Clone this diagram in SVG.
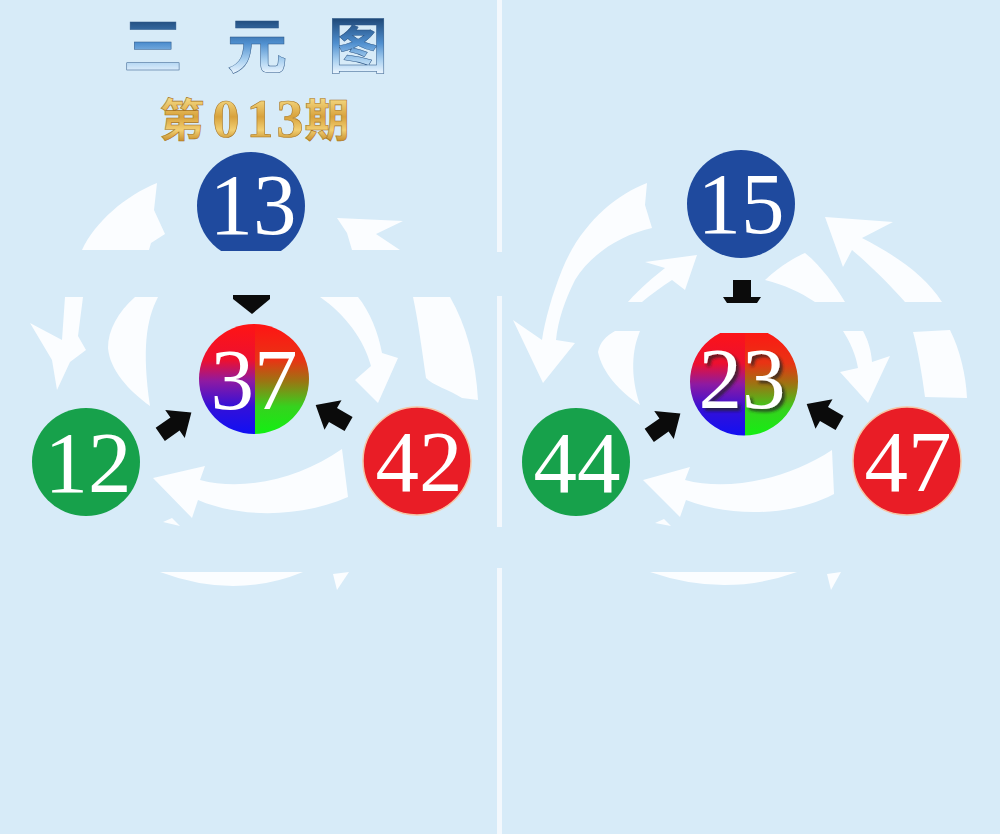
<svg xmlns="http://www.w3.org/2000/svg" width="1000" height="834" viewBox="0 0 1000 834">
<defs>
<style>
.bg{fill:#d7ebf8}
.div{fill:#f3f8fd}
.w{fill:#fbfdff}
.blk{fill:#0b0b0b}
.num{font-family:"Liberation Serif","Times New Roman",serif;font-size:87px;fill:#ffffff;text-anchor:middle}
.blue{fill:#1f4a9e}
.green{fill:#17a14b}
.red{fill:#e91d26;stroke:#f6c4a4;stroke-width:1.5}
.title{font-family:"Noto Sans CJK SC","Noto Sans",sans-serif;font-size:60px;font-weight:700;text-anchor:middle;fill:url(#gTitle);stroke:#2c5686;stroke-width:0.5}
.issue{font-family:"Noto Sans CJK SC","Noto Sans",sans-serif;font-size:45px;font-weight:700;text-anchor:middle;fill:url(#gGold);stroke:#a87420;stroke-width:0.6}
.dig{font-family:"Liberation Serif","Times New Roman",serif;font-size:54px;font-weight:700}
</style>
<linearGradient id="gTitle" gradientUnits="userSpaceOnUse" x1="0" y1="18" x2="0" y2="74">
<stop offset="0" stop-color="#1d4676"/>
<stop offset="0.45" stop-color="#4f8fcf"/>
<stop offset="0.75" stop-color="#a9d0f0"/>
<stop offset="1" stop-color="#eef7ff"/>
</linearGradient>
<linearGradient id="gGold" gradientUnits="userSpaceOnUse" x1="0" y1="97" x2="0" y2="141">
<stop offset="0" stop-color="#f6dc86"/>
<stop offset="0.45" stop-color="#d8a23c"/>
<stop offset="0.75" stop-color="#f2cf72"/>
<stop offset="1" stop-color="#c8902c"/>
</linearGradient>
<linearGradient id="gLeft" x1="0" y1="0" x2="0" y2="1">
<stop offset="0" stop-color="#ff1414"/>
<stop offset="0.33" stop-color="#ec1030"/>
<stop offset="0.52" stop-color="#8e1aa2"/>
<stop offset="0.75" stop-color="#3410d8"/>
<stop offset="1" stop-color="#1010f4"/>
</linearGradient>
<linearGradient id="gRight" x1="0" y1="0" x2="0" y2="1">
<stop offset="0" stop-color="#ff1414"/>
<stop offset="0.33" stop-color="#e83414"/>
<stop offset="0.52" stop-color="#9c7412"/>
<stop offset="0.75" stop-color="#36d21e"/>
<stop offset="1" stop-color="#12f012"/>
</linearGradient>
<clipPath id="c37"><circle cx="254" cy="379" r="55"/></clipPath>
<clipPath id="c23"><path d="M720.3,333 L767.7,333 A54,54 0 1 1 720.3,333 Z"/></clipPath>
<clipPath id="c13"><rect x="190" y="140" width="130" height="111"/></clipPath>
<filter id="sh" x="-20%" y="-20%" width="150%" height="150%">
<feDropShadow dx="3" dy="3" stdDeviation="1.5" flood-color="#202020" flood-opacity="0.75"/>
</filter>
<path id="barrow" d="M-18,-8 L0,-8 L0,-17 L20,0 L0,17 L0,8 L-18,8 Z"/>
</defs>

<rect class="bg" x="0" y="0" width="1000" height="834"/>

<g id="divider">
<rect class="div" x="497" y="0" width="5" height="252"/>
<rect class="div" x="497" y="296" width="5" height="231"/>
<rect class="div" x="497" y="568" width="5" height="266"/>
</g>

<g id="title">
<text class="title" x="153 257 358" y="68">三元图</text>
<text class="issue" y="137"><tspan x="182">第</tspan><tspan class="dig" x="226">0</tspan><tspan class="dig" x="260">1</tspan><tspan class="dig" x="290">3</tspan><tspan x="327">期</tspan></text>
</g>

<g id="connectors">
<!-- left panel white ring fragments -->
<path class="w" d="M82,250 C95,222 125,196 157,183 L154,210 L165,234 L151,243 L149,250 Z"/>
<path class="w" d="M337,218 L403,221 L376,234 L400,250 L352,250 L347,233 Z"/>
<path class="w" d="M65,297 L83,297 L78,336 L86,350 L70,362 L57,390 L52,360 L30,323 L62,340 Z"/>
<path class="w" d="M135,297 L158,297 C146,320 142,350 150,406 C128,390 110,370 108,348 C108,330 118,312 135,297 Z"/>
<path class="w" d="M320,297 L358,297 C370,312 378,332 382,353 L398,358 L378,403 L355,380 L371,366 C364,340 346,315 320,297 Z"/>
<path class="w" d="M413,297 L450,297 C466,325 476,360 478,400 L462,398 C450,390 432,385 426,378 C422,350 418,320 413,297 Z"/>
<path class="w" d="M153,478 L205,466 L200,480 C245,492 300,478 342,449 L348,497 C300,518 240,518 198,500 L192,518 Z"/>
<path class="w" d="M163,522 L172,518 L180,526 Z"/>
<path class="w" d="M160,572 L303,572 Q235,600 160,572 Z"/>
<path class="w" d="M333,574 L349,572 L337,590 Z"/>
<!-- right panel white ring fragments -->
<path class="w" d="M647,183 C615,195 580,225 562,270 C552,295 545,320 542,340 L513,320 L543,383 L575,343 L556,340 C558,320 565,300 575,280 C590,255 620,235 652,228 L645,205 Z"/>
<path class="w" d="M697,255 L685,290 L672,280 C660,288 650,295 642,302 L628,302 C640,288 655,276 665,268 L645,262 Z"/>
<path class="w" d="M825,217 L893,222 L862,238 C895,255 925,275 942,302 L905,302 C890,285 870,265 852,250 L843,267 Z"/>
<path class="w" d="M765,280 C785,262 798,256 805,253 C820,265 835,285 845,302 L815,302 C800,292 785,285 765,280 Z"/>
<path class="w" d="M913,332 L950,330 C960,350 966,375 967,398 L925,397 C922,375 918,350 913,332 Z"/>
<path class="w" d="M843,331 L863,331 C868,340 871,350 872,362 L890,356 L868,403 L840,372 L858,368 C856,355 850,342 843,331 Z"/>
<path class="w" d="M615,331 L640,331 C632,350 630,375 640,405 C620,392 602,372 598,352 C600,342 606,336 615,331 Z"/>
<path class="w" d="M643,480 L690,467 L685,480 C730,492 790,478 832,450 L834,494 C790,517 730,517 686,500 L680,517 Z"/>
<path class="w" d="M655,523 L664,519 L671,526 Z"/>
<path class="w" d="M650,572 L797,572 Q725,598 650,572 Z"/>
<path class="w" d="M827,574 L841,572 L831,590 Z"/>
<!-- black arrows -->
<path class="blk" d="M233,295 L270,295 L270,299 L252,314 L233,299 Z"/>
<use href="#barrow" class="blk" transform="translate(175,424) rotate(-35)"/>
<use href="#barrow" class="blk" transform="translate(333,415) rotate(-150)"/>
<path class="blk" d="M733,280 L751,280 L751,297 L761,297 L757,303 L727,303 L723,297 L733,297 Z"/>
<use href="#barrow" class="blk" transform="translate(664,425) rotate(-35)"/>
<use href="#barrow" class="blk" transform="translate(824,414) rotate(-150)"/>
</g>

<g id="node-13">
<circle class="blue" cx="251" cy="206" r="54" clip-path="url(#c13)"/>
<text class="num" x="253" y="234">13</text>
</g>
<g id="node-37">
<g clip-path="url(#c37)">
<rect x="199" y="324" width="56" height="110" fill="url(#gLeft)"/>
<rect x="255" y="324" width="55" height="110" fill="url(#gRight)"/>
</g>
<text class="num" x="254" y="409">37</text>
</g>
<g id="node-12">
<circle class="green" cx="86" cy="462" r="54"/>
<text class="num" x="88" y="492">12</text>
</g>
<g id="node-42">
<circle class="red" cx="417" cy="461" r="54"/>
<text class="num" x="419" y="491">42</text>
</g>

<g id="node-15">
<circle class="blue" cx="741" cy="204" r="54"/>
<text class="num" x="741" y="233">15</text>
</g>
<g id="node-23">
<g clip-path="url(#c23)">
<rect x="690" y="327" width="55" height="110" fill="url(#gLeft)"/>
<rect x="745" y="327" width="54" height="110" fill="url(#gRight)"/>
</g>
<text class="num" x="742" y="408" filter="url(#sh)">23</text>
</g>
<g id="node-44">
<circle class="green" cx="576" cy="462" r="54"/>
<text class="num" x="577" y="492">44</text>
</g>
<g id="node-47">
<circle class="red" cx="907" cy="461" r="54"/>
<text class="num" x="908" y="491">47</text>
</g>
</svg>
